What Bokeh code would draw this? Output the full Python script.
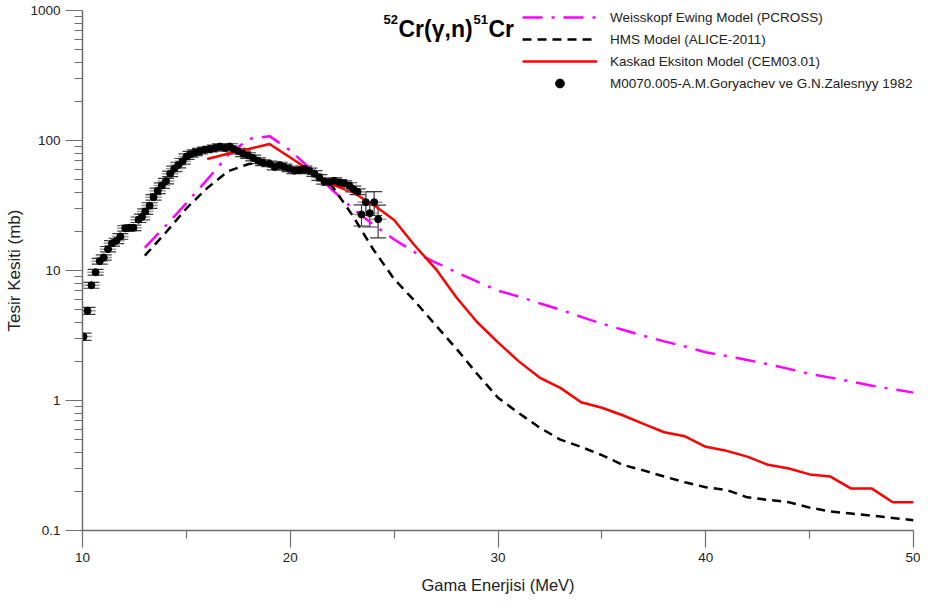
from bokeh.plotting import figure
from bokeh.models import (FixedTicker, CustomJSTickFormatter, Legend, LegendItem, Label,
                          Whisker, ColumnDataSource, TeeHead, Range1d)
from bokeh.embed import file_html
from bokeh.resources import INLINE

# ---- data ----
pcross_e = [13, 14, 15, 16, 17, 18, 19, 20, 21, 22, 23, 24, 25, 26, 27, 28, 29, 30, 31, 32,
            33, 34, 35, 36, 37, 38, 39, 40, 41, 42, 43, 44, 45, 46, 47, 48, 49, 50]
pcross_v = [15, 22, 33, 50, 77, 103, 108, 84, 60, 42, 30, 22.5, 17.3, 13.8, 11.5, 9.7, 8.2, 7.0, 6.3, 5.6,
            5.0, 4.4, 3.9, 3.5, 3.15, 2.85, 2.6, 2.35, 2.2, 2.05, 1.9, 1.75, 1.6, 1.5, 1.4, 1.3, 1.22, 1.15]

alice_e = [13, 14, 15, 16, 17, 18, 19, 20, 21, 22, 23, 24, 25, 26, 27, 28, 29, 30, 31, 32,
           33, 34, 35, 36, 37, 38, 39, 40, 41, 42, 43, 44, 45, 46, 47, 48, 49, 50]
alice_v = [13, 19.5, 30, 43, 58, 66, 67, 62, 55, 45, 26.5, 14.5, 8.6, 5.8, 3.8, 2.5, 1.6, 1.05, 0.8, 0.62,
           0.5, 0.44, 0.38, 0.32, 0.29, 0.26, 0.235, 0.215, 0.205, 0.18, 0.172, 0.165, 0.15, 0.14, 0.135,
           0.13, 0.125, 0.12]

cem_e = [16, 17, 18, 19, 20, 21, 22, 23, 24, 25, 26, 27, 28, 29, 30, 31, 32, 33, 34, 35,
         36, 37, 38, 39, 40, 41, 42, 43, 44, 45, 46, 47, 48, 49, 50]
cem_v = [72, 79, 86, 94, 74, 58, 46, 40, 32, 24.5, 15.5, 10.3, 6.2, 4.0, 2.8, 2.0, 1.5, 1.25, 0.97, 0.88,
         0.77, 0.66, 0.57, 0.53, 0.44, 0.41, 0.37, 0.32, 0.30, 0.27, 0.26, 0.21, 0.21, 0.165, 0.165]

exp_e = [10.05, 10.24, 10.43, 10.63, 10.83, 11.02, 11.23, 11.42, 11.63, 11.82, 12.06, 12.25, 12.45,
         12.70, 12.86, 13.02, 13.23, 13.42, 13.62, 13.82, 14.02, 14.22, 14.42, 14.61, 14.82, 15.01,
         15.20, 15.41, 15.65, 15.89, 16.13, 16.37, 16.61, 16.85, 17.09, 17.28, 17.49, 17.73, 17.97,
         18.21, 18.45, 18.69, 19.00, 19.25, 19.49, 19.72, 19.96, 20.20, 20.44, 20.68, 20.92, 21.16,
         21.40, 21.64, 21.88, 22.12, 22.36, 22.60, 22.84, 23.03, 23.24, 23.43, 23.64, 23.83, 24.04,
         24.23]
exp_v = [3.1, 4.9, 7.7, 9.7, 11.8, 12.6, 14.6, 16.2, 16.9, 18.3, 21.1, 21.3, 21.3,
         24.6, 25.8, 28.4, 31.6, 36.6, 41, 45, 48.7, 55.4, 60.6, 64.8, 69.3, 75.3,
         78.5, 80.6, 82.8, 84.8, 86, 87.6, 89.9, 87.6, 89.9, 86, 82.8, 79, 76.7,
         73.4, 70, 67.5, 66.2, 62.6, 64.8, 62.6, 60.6, 58.5, 59, 60.6, 58.5, 55.8,
         52, 48.5, 47.6, 49, 47.6, 46.6, 45, 42.4, 40.4, 27, 33.5, 27.6, 33.5,
         24.8]
exp_dv = [0.2, 0.3, 0.4, 0.5, 0.6, 0.6, 0.7, 0.8, 0.8, 0.9, 1.0, 1.0, 1.0,
          1.2, 1.3, 1.4, 1.6, 1.8, 2.0, 2.2, 2.4, 2.7, 3.0, 3.2, 3.4, 3.7,
          3.9, 4.0, 4.1, 4.2, 4.3, 4.4, 4.5, 4.4, 4.5, 4.3, 4.1, 3.9, 3.8,
          3.7, 3.5, 3.4, 3.3, 3.1, 3.2, 3.1, 3.0, 2.9, 3.0, 3.0, 2.9, 2.8,
          2.6, 2.4, 2.4, 2.5, 2.4, 2.3, 2.3, 2.2, 2.1, 5.0, 7.0, 6.0, 7.0,
          7.0]
exp_de = [0.4] * len(exp_e)

x_ticks = [10, 20, 30, 40, 50]
x_minor = [15, 25, 35, 45]
y_ticks = [0.1, 1, 10, 100, 1000]
y_minor = [k * 10.0 ** d for d in (-1, 0, 1, 2) for k in range(2, 10)]

FONT = "Liberation Sans"

p = figure(width=920, height=600, x_range=Range1d(10, 50), y_range=Range1d(0.1, 1000),
           y_axis_type="log", output_backend="svg", toolbar_location=None,
           min_border_left=82, min_border_right=7, min_border_top=10, min_border_bottom=70)
p.outline_line_color = None
p.xgrid.grid_line_color = None
p.ygrid.grid_line_color = None
p.background_fill_color = "white"

for ax in (p.xaxis[0], p.yaxis[0]):
    ax.axis_line_color = "#6e6e6e"
    ax.axis_line_width = 1.5
    ax.major_tick_line_color = "#6e6e6e"
    ax.minor_tick_line_color = "#6e6e6e"
    ax.major_tick_line_width = 1.2
    ax.minor_tick_line_width = 1.2
    ax.major_tick_in = 0
    ax.major_tick_out = 17
    ax.minor_tick_in = 0
    ax.minor_tick_out = 8
    ax.major_label_text_font = FONT
    ax.major_label_text_font_size = "13.5px"
    ax.major_label_text_color = "#222222"
    ax.axis_label_text_font = FONT
    ax.axis_label_text_font_style = "normal"
    ax.axis_label_text_color = "#222222"

p.xaxis.ticker = FixedTicker(ticks=x_ticks, minor_ticks=x_minor)
p.yaxis.ticker = FixedTicker(ticks=y_ticks, minor_ticks=y_minor)
p.yaxis.formatter = CustomJSTickFormatter(code="return String(Number(tick.toPrecision(6)));")
p.xaxis.axis_label = "Gama Enerjisi (MeV)"
p.yaxis.axis_label = "Tesir Kesiti (mb)"
p.xaxis.axis_label_text_font_size = "16.5px"
p.yaxis.axis_label_text_font_size = "17px"
p.xaxis.major_label_standoff = 5
p.yaxis.major_label_standoff = 5
p.xaxis.axis_label_standoff = 11
p.yaxis.axis_label_standoff = 3

pc = p.line(pcross_e, pcross_v, line_color="#ff00ff", line_width=2.5, line_dash="20 9 3 9")
al = p.line(alice_e, alice_v, line_color="black", line_width=2.5, line_dash="9 6")
ce = p.line(cem_e, cem_v, line_color="#ff0000", line_width=2.5)

src = ColumnDataSource(dict(
    e=exp_e, v=exp_v,
    x0=[a - b for a, b in zip(exp_e, exp_de)], x1=[a + b for a, b in zip(exp_e, exp_de)],
    lo=[a - b for a, b in zip(exp_v, exp_dv)], up=[a + b for a, b in zip(exp_v, exp_dv)],
))
p.segment(x0="x0", x1="x1", y0="v", y1="v", source=src, line_color="#9a9a9a", line_width=1.5)
wh = Whisker(source=src, base="e", upper="up", lower="lo", dimension="height",
             line_color="#3a3a3a", line_width=1.2,
             upper_head=TeeHead(size=16, line_color="#3a3a3a", line_width=1.2),
             lower_head=TeeHead(size=16, line_color="#3a3a3a", line_width=1.2))
p.add_layout(wh)
dots = p.scatter("e", "v", source=src, size=7, color="black")

legend = Legend(items=[
    LegendItem(label="Weisskopf Ewing Model (PCROSS)", renderers=[pc]),
    LegendItem(label="HMS Model (ALICE-2011)", renderers=[al]),
    LegendItem(label="Kaskad Eksiton Model (CEM03.01)", renderers=[ce]),
    LegendItem(label="M0070.005-A.M.Goryachev ve G.N.Zalesnyy 1982", renderers=[dots]),
], location=(440, 436), glyph_width=75, glyph_height=22, label_height=22, spacing=0,
    label_standoff=13, padding=0, margin=0, border_line_color=None,
    background_fill_alpha=0, label_text_font=FONT, label_text_font_size="13.5px",
    label_text_color="#222222")
p.add_layout(legend)

# title pieces (frame-relative screen units)
tx, ty = 301, 502
big = "23px"
small = "13px"
parts = [("52", small, 0, 9), ("Cr(γ,n)", big, 15, 0), ("51", small, 90, 9), ("Cr", big, 105, 0)]
for txt, fs, dx, dy in parts:
    p.add_layout(Label(x=tx + dx, y=ty + dy, x_units="screen", y_units="screen", text=txt,
                       text_font=FONT, text_font_size=fs, text_font_style="bold",
                       text_color="black", text_baseline="alphabetic"))

open("out.html", "w").write(file_html(p, INLINE))
